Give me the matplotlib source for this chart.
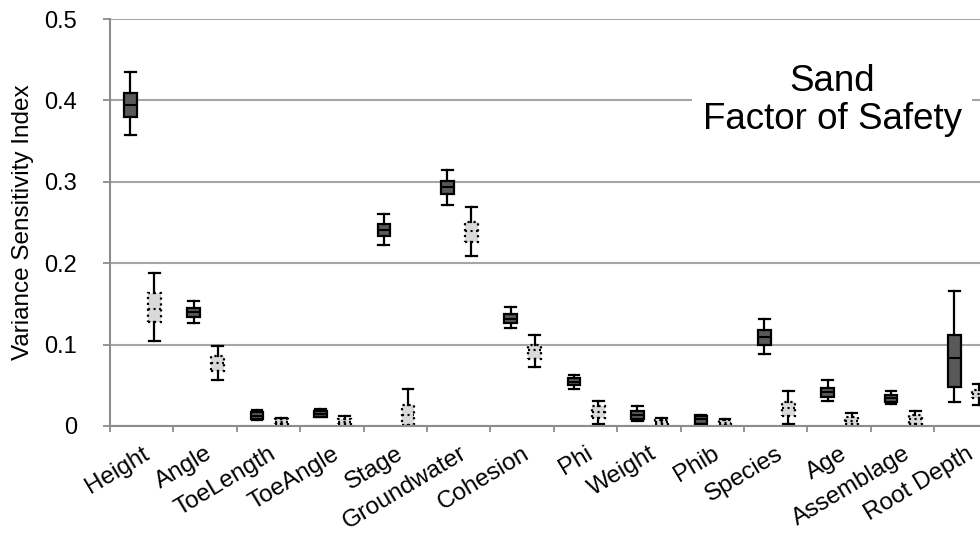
import matplotlib
matplotlib.use("Agg")
import matplotlib.pyplot as plt

plt.rcParams['font.family'] = ['Liberation Sans', 'DejaVu Sans']

# ==============================
# DATA
# ==============================
categories = ["Height", "Angle", "ToeLength", "ToeAngle", "Stage", "Groundwater",
              "Cohesion", "Phi", "Weight", "Phib", "Species", "Age",
              "Assemblage", "Root Depth"]

# dark series
dark_lo  = [0.357, 0.127, 0.007, 0.011, 0.222, 0.272, 0.121, 0.046, 0.006, 0.002, 0.088, 0.031, 0.027, 0.030]
dark_q1  = [0.379, 0.134, 0.008, 0.011, 0.233, 0.285, 0.127, 0.050, 0.009, 0.003, 0.100, 0.036, 0.029, 0.048]
dark_med = [0.394, 0.140, 0.012, 0.015, 0.241, 0.293, 0.132, 0.054, 0.014, 0.008, 0.109, 0.042, 0.034, 0.084]
dark_q3  = [0.409, 0.145, 0.017, 0.019, 0.248, 0.301, 0.138, 0.059, 0.019, 0.012, 0.118, 0.047, 0.038, 0.112]
dark_hi  = [0.435, 0.153, 0.020, 0.021, 0.260, 0.314, 0.146, 0.063, 0.024, 0.014, 0.131, 0.056, 0.043, 0.166]

# light (dotted) series
light_lo  = [0.105, 0.057, 0.000, 0.000, 0.000, 0.209, 0.072, 0.003, 0.000, 0.000, 0.003, 0.000, 0.000, 0.026]
light_q1  = [0.128, 0.068, 0.002, 0.002, 0.001, 0.226, 0.082, 0.010, 0.002, 0.001, 0.012, 0.002, 0.003, 0.034]
light_med = [0.144, 0.078, 0.005, 0.005, 0.014, 0.240, 0.093, 0.017, 0.005, 0.004, 0.022, 0.006, 0.008, 0.039]
light_q3  = [0.163, 0.086, 0.008, 0.008, 0.026, 0.251, 0.100, 0.024, 0.007, 0.007, 0.030, 0.011, 0.014, 0.044]
light_hi  = [0.188, 0.098, 0.010, 0.012, 0.045, 0.269, 0.112, 0.031, 0.010, 0.009, 0.043, 0.016, 0.018, 0.052]

ytick_vals = [0, 0.1, 0.2, 0.3, 0.4, 0.5]
ytick_labels = ["0", "0.1", "0.2", "0.3", "0.4", "0.5"]


def make_stats(lo, q1, med, q3, hi):
    return [dict(whislo=a, q1=b, med=c, q3=d, whishi=e, fliers=[])
            for a, b, c, d, e in zip(lo, q1, med, q3, hi)]


# ==============================
# CHART
# ==============================
fig = plt.figure(figsize=(9.8, 5.42), dpi=100)
ax = fig.add_axes([110 / 980, 116 / 542, 887.6 / 980, 407 / 542])

centers = [i + 0.5 for i in range(len(categories))]
grid_c = "#a6a6a6"
axis_c = "#8c8c8c"

ax.bxp(make_stats(dark_lo, dark_q1, dark_med, dark_q3, dark_hi),
       positions=[c - 0.18 for c in centers], widths=0.2, capwidths=0.17,
       patch_artist=True, showfliers=False,
       boxprops=dict(facecolor="#595959", edgecolor="black", linewidth=1.6),
       medianprops=dict(color="black", linewidth=1.5),
       whiskerprops=dict(color="black", linewidth=1.6),
       capprops=dict(color="black", linewidth=1.6))

ax.bxp(make_stats(light_lo, light_q1, light_med, light_q3, light_hi),
       positions=[c + 0.2 for c in centers], widths=0.2, capwidths=0.17,
       patch_artist=True, showfliers=False,
       boxprops=dict(facecolor="#d9d9d9", edgecolor="black", linewidth=1.6, linestyle=":"),
       medianprops=dict(color="black", linewidth=1.5, linestyle=":"),
       whiskerprops=dict(color="black", linewidth=1.6),
       capprops=dict(color="black", linewidth=1.6))

ax.set_xlim(0, len(categories))
ax.set_ylim(0, 0.5)

ax.set_axisbelow(True)
ax.yaxis.grid(True, color=grid_c, linewidth=1.5)

for s in ["top", "right"]:
    ax.spines[s].set_visible(False)
for s in ["left", "bottom"]:
    ax.spines[s].set_color(axis_c)
    ax.spines[s].set_linewidth(1.5)

ax.set_yticks(ytick_vals)
ax.set_yticklabels(ytick_labels)
ax.tick_params(axis="y", length=5, width=1.3, color=axis_c, pad=18.5, labelsize=17)

ax.set_xticks(range(len(categories) + 1))
ax.set_xticklabels([])
ax.set_xticks(centers, minor=True)
ax.set_xticklabels(categories, minor=True, rotation=31, ha="right",
                   va="top", rotation_mode="anchor", fontsize=17.5)
ax.tick_params(axis="x", which="major", length=4, width=1.3, color=axis_c)
ax.tick_params(axis="x", which="minor", length=0, pad=12)

ax.set_ylabel("Variance Sensitivity Index", fontsize=17.5)
ax.yaxis.set_label_coords(-0.098, 0.5)
ax.yaxis.label.set_va("center")

ax.text(11.39, 0.40, "Sand\nFactor of Safety", ha="center", va="center",
        fontsize=26.5, linespacing=1.1,
        bbox=dict(facecolor="white", edgecolor="none", pad=7.6))

plt.savefig("out.png", dpi=100)
